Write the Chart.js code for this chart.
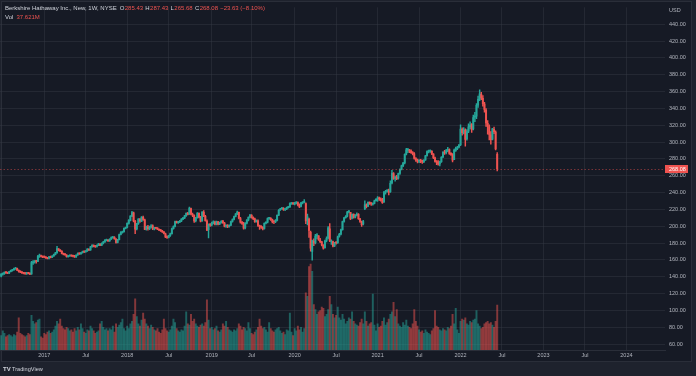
<!DOCTYPE html>
<html>
<head>
<meta charset="utf-8">
<script src="https://cdn.jsdelivr.net/npm/chart.js@4.4.1/dist/chart.umd.min.js"></script>
<style>
  html, body { margin: 0; padding: 0; background: #1e222d; }
  #wrap { width: 696px; height: 376px; }
</style>
</head>
<body>
<div id="wrap"><canvas id="chart" width="696" height="376"></canvas></div>
<script>
// weekly BRK.B candles, week 0 = 27 Jun 2016, last = 13 Jun 2022
const opens = [
  // 2016
  140.6,143.0,143.6,145.3,144.5,144.2,146.1,147.4,148.3,149.5,150.0,147.7,146.3,145.6,144.4,144.0,143.5,144.3,143.8,143.4,156.5,157.6,158.2,158.3,164.5,165.0,164.2,
  // 2017
  163.9,163.2,162.0,161.9,163.5,163.1,164.6,166.4,168.4,173.0,171.0,170.2,167.6,166.5,165.8,163.9,164.6,165.0,164.5,164.1,163.5,165.8,167.6,167.3,168.6,169.8,169.5,170.6,172.7,171.7,175.4,177.0,175.9,175.9,177.3,178.9,177.4,179.7,181.3,183.1,183.4,182.5,184.7,186.2,186.8,184.8,180.8,184.0,190.3,192.4,193.4,197.3,
  // 2018
  198.5,203.3,207.0,212.0,216.0,205.8,196.8,202.9,208.2,206.0,210.6,207.6,196.5,199.3,197.2,199.0,200.3,196.8,198.0,197.4,196.3,195.4,194.3,193.0,191.0,187.5,186.8,188.6,191.2,197.2,199.8,205.2,204.4,205.0,206.2,208.4,209.9,212.4,215.2,214.3,221.0,214.0,212.6,206.7,210.1,215.4,210.5,206.5,216.4,211.6,206.2,195.8,202.4,
  // 2019
  201.5,203.9,205.0,202.2,205.2,202.6,204.3,206.2,203.8,200.0,200.4,199.6,201.2,205.6,208.2,211.6,214.5,216.5,209.2,204.5,203.2,198.0,203.6,207.4,210.8,213.0,210.0,208.8,205.6,206.5,200.5,199.2,198.6,197.3,203.6,204.7,209.3,209.4,207.9,205.2,205.3,207.0,213.2,219.2,220.9,221.3,219.8,220.5,222.1,222.9,227.0,227.1,
  // 2020
  226.3,227.6,228.0,224.9,223.5,227.9,228.5,227.0,207.0,208.5,192.8,170.0,182.0,180.5,188.5,188.5,183.6,181.3,177.3,174.5,183.2,186.0,197.0,181.2,181.8,176.6,180.5,180.3,187.8,190.6,196.0,205.6,210.0,211.8,217.0,216.4,209.6,214.2,210.6,213.0,214.0,208.7,205.3,202.6,220.8,223.8,223.9,228.2,227.3,226.3,227.0,230.4,
  // 2021
  232.5,232.8,232.2,231.0,228.8,240.3,241.6,241.7,241.0,251.5,262.5,256.9,258.0,257.2,262.7,267.8,271.8,275.3,285.6,290.2,290.1,289.5,287.3,286.0,280.2,278.6,277.2,278.0,277.3,276.8,278.6,283.8,288.6,289.0,288.9,285.6,281.2,276.8,276.3,274.1,276.8,282.2,287.5,287.4,289.9,291.1,286.2,285.1,279.0,290.0,292.2,293.9,
  // 2022
  297.0,315.0,311.5,314.0,303.8,312.8,318.0,320.6,315.5,329.5,330.8,343.9,350.9,356.8,352.0,345.0,338.1,322.2,318.0,308.5,303.5,315.0,311.8,285.43
];
const highs = [
  143.6,144.2,145.8,146.0,145.2,146.5,148.0,148.9,150.2,151.1,150.3,148.2,147.0,146.0,145.3,144.9,145.1,145.0,144.6,158.2,159.3,159.2,159.5,165.4,166.8,165.6,164.8,
  164.6,164.0,163.1,164.2,164.4,165.1,167.0,169.1,176.0,173.5,172.3,170.9,168.2,167.4,166.3,165.0,166.1,166.0,165.7,165.4,166.0,168.3,168.4,169.0,170.5,170.6,171.1,173.4,173.2,176.0,178.1,177.8,177.0,177.9,179.6,179.3,180.2,181.9,184.1,184.6,184.0,185.1,187.4,188.1,187.6,185.4,184.4,190.7,193.5,194.2,198.2,199.0,
  204.0,207.8,212.6,217.6,216.8,207.0,203.5,209.0,209.3,211.5,211.9,208.5,200.2,201.0,200.0,201.8,201.5,198.8,198.6,198.3,197.0,196.2,195.1,193.8,191.9,188.5,189.2,191.8,197.7,200.5,206.0,206.0,205.8,206.9,209.2,210.6,212.8,215.9,216.4,222.8,221.4,215.6,213.4,210.6,216.3,216.0,211.6,217.4,218.6,212.8,207.5,202.8,203.2,
  205.0,206.3,206.0,206.2,205.8,205.0,206.8,207.0,204.5,201.6,201.8,201.7,206.0,208.7,212.0,215.1,218.0,216.9,210.4,205.9,204.5,204.4,207.8,211.2,214.0,213.9,211.0,209.6,207.7,207.5,201.4,200.8,199.6,204.0,205.3,209.8,210.6,210.2,208.5,206.4,207.8,213.6,219.6,221.2,222.1,222.0,220.9,222.8,223.5,227.8,228.1,228.0,
  228.4,229.3,229.0,226.5,228.4,229.0,231.6,227.8,214.3,209.6,194.3,183.6,184.9,190.4,191.1,189.0,185.6,181.9,178.2,183.4,187.3,199.5,203.0,183.9,182.4,180.9,181.7,188.2,191.5,196.7,206.2,210.6,212.6,217.8,218.6,216.6,214.6,214.6,213.8,215.8,214.9,209.4,206.2,207.0,230.0,226.5,228.9,228.9,228.0,227.6,231.0,232.8,
  235.1,234.5,233.8,233.2,241.3,242.6,243.5,244.0,254.0,266.5,263.6,259.6,260.4,263.2,268.3,272.5,275.9,286.0,292.6,292.4,291.4,290.6,288.7,287.4,281.6,279.8,279.2,279.4,278.6,279.2,284.3,289.5,290.3,290.7,289.8,286.2,282.0,278.0,277.9,277.3,282.6,288.7,290.0,291.2,293.6,292.0,287.6,286.3,291.5,293.9,294.8,297.4,
  320.4,316.8,317.3,315.6,314.9,321.7,324.0,322.0,332.1,335.2,345.6,354.5,362.1,359.0,355.2,347.3,339.8,325.6,320.3,312.4,316.4,317.9,313.2,287.43
];
const lows = [
  139.8,141.9,142.8,144.0,143.5,143.6,145.6,146.7,147.5,148.7,147.3,145.4,144.8,143.9,143.2,142.6,142.7,143.3,142.3,142.8,154.6,156.1,156.2,157.8,162.9,163.5,162.6,
  162.5,161.6,161.0,161.2,162.3,162.5,164.1,165.9,168.0,170.5,169.6,167.0,165.9,165.5,163.2,163.3,164.0,164.1,163.6,162.8,163.0,165.3,166.6,166.6,167.9,168.7,169.0,170.0,171.1,171.2,175.0,175.4,174.9,175.2,176.8,176.9,176.8,179.0,180.8,182.4,181.8,182.0,184.2,185.7,184.5,179.8,180.2,183.6,189.5,191.7,193.0,196.8,
  198.0,202.4,206.3,211.2,205.0,191.0,195.5,202.0,204.5,205.3,206.9,195.9,195.2,195.4,195.8,197.9,195.9,195.7,196.7,196.0,194.6,193.9,192.6,190.7,186.4,185.6,186.2,188.0,190.6,196.4,199.1,203.6,203.4,204.1,205.5,207.7,209.0,211.6,213.3,214.0,213.5,211.3,204.4,205.2,209.5,209.9,205.0,205.6,211.3,205.9,194.6,186.1,199.8,
  200.2,202.8,201.4,201.5,201.6,201.9,203.6,203.2,199.1,198.5,198.2,198.8,200.6,204.9,207.4,211.0,213.8,208.7,203.5,202.1,196.6,196.8,202.6,206.4,209.9,209.5,207.9,204.6,204.8,199.8,196.2,197.4,195.7,196.5,202.7,203.8,208.0,206.9,203.9,203.1,204.2,206.2,212.4,218.6,219.9,218.8,218.4,219.6,221.4,222.2,226.0,225.8,
  225.4,226.4,224.1,222.0,222.9,226.5,227.8,203.0,201.6,186.8,170.2,159.5,176.8,178.8,185.0,183.1,180.4,176.5,172.6,174.0,181.3,185.0,181.6,178.5,175.4,175.6,178.7,179.6,186.9,189.6,195.3,204.9,209.4,210.9,215.8,207.7,208.6,209.4,209.9,212.3,208.2,204.6,199.6,201.4,219.7,221.7,223.1,225.9,224.8,225.1,226.4,229.7,
  229.5,230.6,229.7,227.1,228.2,238.2,240.4,237.2,240.2,250.1,255.6,253.6,255.2,255.9,261.5,266.8,270.6,274.1,284.7,287.4,287.3,286.6,284.8,279.7,277.0,275.3,275.6,275.5,274.6,275.4,278.0,283.2,287.0,287.6,285.1,280.1,276.0,273.2,272.4,271.5,275.8,281.3,285.3,285.8,288.5,285.4,284.2,276.5,279.3,288.7,291.0,293.0,
  295.8,308.1,309.6,295.1,302.2,311.1,315.6,311.4,314.4,324.1,327.6,341.2,349.2,350.4,342.7,335.4,318.4,309.3,302.4,297.6,302.4,309.8,290.5,265.68
];
const closes = [
  143.1,143.5,145.2,144.6,144.3,146.0,147.5,148.2,149.6,150.1,147.9,146.2,145.5,144.5,144.1,143.6,144.2,143.9,143.0,156.8,157.5,158.4,158.0,164.3,165.1,164.0,163.0,
  163.4,162.2,161.8,163.6,163.0,164.5,166.5,168.3,173.4,171.2,170.4,167.5,166.7,166.0,163.8,164.5,165.2,164.6,164.3,163.4,165.6,167.9,167.2,168.5,169.9,169.4,170.5,172.8,171.6,175.5,177.2,176.0,175.8,177.4,179.0,177.3,179.6,181.2,183.3,183.5,182.4,184.6,186.4,186.9,185.0,180.6,183.8,190.1,192.6,193.3,197.4,198.2,
  203.5,207.1,211.9,216.3,206.2,196.4,202.8,208.5,205.9,210.8,208.0,196.3,199.5,197.0,198.9,200.5,196.7,197.9,197.6,196.5,195.2,194.5,193.2,191.3,187.3,186.6,188.4,191.0,197.0,199.6,205.4,204.3,204.9,206.0,208.6,209.8,212.2,215.4,214.1,221.4,214.3,213.0,206.4,209.9,215.7,210.8,206.1,216.8,212.0,206.7,195.3,202.1,201.2,
  203.8,204.9,202.3,205.4,202.4,204.2,205.9,204.1,199.9,200.2,199.5,200.9,205.4,208.0,211.5,214.6,216.9,209.6,204.8,203.4,197.7,203.5,207.2,210.6,213.2,210.2,209.0,205.4,206.8,200.9,199.4,198.8,196.8,203.4,204.5,209.2,209.5,208.1,205.4,205.1,206.7,212.9,219.0,220.7,221.5,219.6,220.3,222.3,222.7,226.9,227.3,226.5,
  227.4,228.1,225.2,223.0,227.7,228.3,229.6,206.3,211.0,195.0,173.8,182.8,179.7,188.3,189.4,184.2,181.6,177.7,173.9,182.7,185.6,198.2,182.4,181.5,176.2,179.8,180.0,187.5,190.3,195.7,205.4,209.8,211.6,216.8,217.2,209.2,214.0,210.7,212.6,214.3,209.0,205.6,201.9,205.4,225.6,223.5,228.4,227.1,226.5,226.6,230.1,231.9,
  232.7,232.4,230.9,228.0,240.0,241.4,241.9,240.5,250.8,262.9,256.7,258.3,256.6,262.4,267.6,271.6,274.9,285.3,290.6,290.4,289.2,287.5,286.3,280.6,278.5,276.9,277.9,277.5,276.5,278.3,283.6,288.7,288.9,289.1,285.9,281.4,277.0,276.1,273.8,276.4,281.9,287.8,287.0,289.8,291.4,286.5,285.4,278.3,290.3,292.6,293.5,296.0,
  315.5,311.0,314.8,303.0,312.5,318.1,320.2,315.1,328.9,330.5,343.6,350.6,357.4,352.3,345.6,338.8,322.8,318.5,309.0,302.8,315.6,312.2,291.71,268.08
];
// weekly volume, millions
const volumes = [
  12,16,14,11,12,13,12,11,13,12,15,27,14,13,12,11,12,14,13,29,24,22,23,25,26,11,10,
  14,13,15,16,14,15,17,20,24,22,26,20,18,17,19,18,16,17,15,18,16,19,17,22,18,15,14,17,16,20,18,16,14,15,16,22,24,19,17,18,16,18,17,20,15,22,19,21,23,26,18,16,
  20,18,22,24,30,43,28,22,20,25,31,26,22,20,18,21,19,17,16,18,15,14,17,26,18,16,15,17,20,26,23,18,16,15,17,16,20,32,22,21,30,24,26,22,20,19,21,22,20,23,42,25,18,
  19,17,18,20,16,15,17,22,20,24,19,17,16,15,17,16,18,22,20,17,19,18,16,23,18,14,13,15,17,19,26,20,18,19,17,15,23,18,16,15,17,18,19,16,14,15,13,17,16,31,15,12,
  18,16,20,17,19,15,18,48,45,70,72,66,38,34,30,32,33,36,35,28,30,34,45,38,30,27,29,36,27,25,30,26,22,24,27,26,32,24,22,21,20,23,26,22,32,24,20,22,23,47,21,16,
  22,19,20,24,27,21,23,26,30,32,40,28,34,22,20,19,23,21,25,20,19,18,22,34,24,20,17,15,16,14,17,15,14,13,16,18,33,20,19,17,16,18,17,16,19,18,20,30,22,35,17,14,
  24,26,25,27,22,21,24,23,25,26,33,22,20,18,19,22,23,24,22,23,21,19,24,37.621
];

// time axis labels, placed on the first weekly bar of each period
const tickWeeks = [27, 53, 79, 105, 132, 157, 184, 210, 236, 262, 288, 314, 340, 366, 392];
const tickText = ['2017', 'Jul', '2018', 'Jul', '2019', 'Jul', '2020', 'Jul', '2021', 'Jul', '2022', 'Jul', '2023', 'Jul', '2024'];
const priceTicks = [60, 80, 100, 120, 140, 160, 180, 200, 220, 240, 260, 280, 300, 320, 340, 360, 380, 400, 420, 440];
const usdTick = 456.5;

const UP = '#26a69a';
const DOWN = '#ef5350';
const FONT = '"Liberation Sans", Arial, sans-serif';
const gridColor = 'rgba(54,58,69,0.45)';
const last = closes.length - 1;

const isUp = opens.map((o, i) => closes[i] >= o);
const candleColors = isUp.map(u => u ? UP : DOWN);
const volColors = isUp.map(u => u ? 'rgba(38,166,154,0.5)' : 'rgba(239,83,80,0.5)');

const paneBg = {
  id: 'paneBg',
  beforeDraw(chart) {
    const c = chart.ctx;
    c.save();
    c.fillStyle = '#1e222d';
    c.fillRect(0, 0, chart.width, chart.height);
    c.fillStyle = '#161a25';
    c.fillRect(1, 1, 691, 361);
    c.strokeStyle = '#2a2e39';
    c.lineWidth = 1;
    c.strokeRect(1.5, 1.5, 690, 360);
    c.restore();
  }
};

const lastPrice = {
  id: 'lastPrice',
  afterDatasetsDraw(chart) {
    const c = chart.ctx;
    const a = chart.chartArea;
    const y = Math.round(chart.scales.y.getPixelForValue(closes[last])) + 0.5;
    c.save();
    c.strokeStyle = 'rgba(239,83,80,0.45)';
    c.setLineDash([1.5, 2]);
    c.lineWidth = 1;
    c.beginPath();
    c.moveTo(a.left, y);
    c.lineTo(a.right, y);
    c.stroke();
    c.setLineDash([]);
    c.fillStyle = DOWN;
    c.fillRect(a.right, y - 4.5, 23, 8);
    c.fillStyle = '#ffffff';
    c.font = '5.5px ' + FONT;
    c.textAlign = 'left';
    c.textBaseline = 'middle';
    c.fillText(closes[last].toFixed(2), a.right + 4, y);
    c.restore();
  }
};

const header = {
  id: 'header',
  afterDraw(chart) {
    const c = chart.ctx;
    c.save();
    c.font = '6px ' + FONT;
    c.textBaseline = 'middle';
    c.textAlign = 'left';
    const grey = '#d1d4dc';
    const chg = closes[last] - closes[last - 1];
    const pct = chg / closes[last - 1] * 100;
    let x = 5;
    const put = (t, col, gap) => {
      c.fillStyle = col;
      c.fillText(t, x, 8);
      x += c.measureText(t).width + gap;
    };
    put('Berkshire Hathaway Inc., New, 1W, NYSE', grey, 3);
    [['O', opens[last]], ['H', highs[last]], ['L', lows[last]], ['C', closes[last]]].forEach(([k, v]) => {
      put(k, grey, 0.4);
      put(v.toFixed(2), DOWN, 2.2);
    });
    put('\u2212' + Math.abs(chg).toFixed(2) + ' (\u2212' + Math.abs(pct).toFixed(2) + '%)', DOWN, 0);
    c.fillStyle = grey;
    c.fillText('Vol', 5, 17);
    c.fillStyle = DOWN;
    c.fillText(volumes[last].toFixed(3) + 'M', 16.5, 17);
    // logo strip
    c.fillStyle = '#d1d4dc';
    c.font = 'bold 6px ' + FONT;
    c.fillText('TV', 3, 369);
    c.font = '5.6px ' + FONT;
    c.fillText('TradingView', 12, 369);
    c.restore();
  }
};

new Chart(document.getElementById('chart'), {
  type: 'bar',
  data: {
    datasets: [
      {
        label: 'body',
        data: opens.map((o, i) => ({ x: i, y: [o, closes[i]] })),
        backgroundColor: candleColors,
        barThickness: 1.3,
        minBarLength: 1,
        grouped: false,
        order: 1
      },
      {
        label: 'wick',
        data: lows.map((l, i) => ({ x: i, y: [l, highs[i]] })),
        backgroundColor: candleColors,
        barThickness: 0.8,
        grouped: false,
        order: 2
      },
      {
        label: 'Vol',
        data: volumes.map((v, i) => ({ x: i, y: v })),
        backgroundColor: volColors,
        barThickness: 1.3,
        grouped: false,
        yAxisID: 'yv',
        order: 3
      }
    ]
  },
  options: {
    responsive: false,
    animation: false,
    devicePixelRatio: 1,
    layout: { padding: { top: 5, bottom: 14, left: 0, right: 0 } },
    plugins: { legend: { display: false }, tooltip: { enabled: false } },
    scales: {
      x: {
        type: 'linear',
        offset: false,
        min: -0.75,
        max: 416.2,
        afterBuildTicks: s => { s.ticks = tickWeeks.map(v => ({ value: v })); },
        afterFit: s => { s.height = 12; },
        ticks: {
          autoSkip: false,
          maxRotation: 0,
          padding: 2,
          color: '#b2b5be',
          font: { family: FONT, size: 5.5 },
          callback: (v, i) => tickText[i]
        },
        grid: { color: gridColor, drawTicks: false, offset: false },
        border: { display: true, color: '#2a2e39' }
      },
      y: {
        position: 'right',
        min: 52.92,
        max: 460.06,
        afterBuildTicks: s => { s.ticks = priceTicks.concat([usdTick]).map(v => ({ value: v })); },
        afterFit: s => { s.width = 31; },
        ticks: {
          autoSkip: false,
          padding: 4,
          color: '#b2b5be',
          font: { family: FONT, size: 5.5 },
          callback: v => v === usdTick ? 'USD' : v.toFixed(2)
        },
        grid: {
          drawTicks: false,
          color: ctx => (ctx.tick && ctx.tick.value === usdTick) ? 'rgba(0,0,0,0)' : gridColor
        },
        border: { display: false }
      },
      yv: {
        display: false,
        min: 0,
        max: 287.5
      }
    }
  },
  plugins: [paneBg, lastPrice, header]
});
</script>
</body>
</html>
